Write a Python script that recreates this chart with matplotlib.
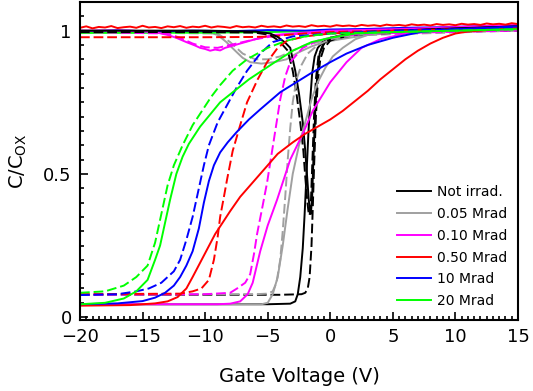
#%% Import libraries
import numpy as np
import matplotlib.pyplot as plt

#%% Data (gate voltage in V, normalised capacitance)
labels = ["Not irrad.", "0.05 Mrad", "0.10 Mrad", "0.50 Mrad", "10 Mrad", "20 Mrad"]
colors = ["#000000", "#a0a0a0", "#ff00ff", "#ff0000", "#0000ff", "#00ff00"]

# Not irradiated
v_black_s = [-20, -10, -5, -3.2, -2.8, -2.6, -2.4, -2.2, -2.05, -1.9, -1.75, -1.6, -1.45, -1.25, -1.0, -0.6, 0, 1, 3, 8, 15]
c_black_s = [0.045, 0.045, 0.045, 0.047, 0.055, 0.08, 0.14, 0.24, 0.36, 0.5, 0.64, 0.76, 0.85, 0.91, 0.94, 0.96, 0.975, 0.985, 0.995, 1.005, 1.015]
v_black_d = [-20, -10, -4, -2.3, -2.0, -1.8, -1.65, -1.5, -1.4, -1.3, -1.15, -1.0, -0.8, -0.5, 0, 1, 2, 5, 15]
c_black_d = [0.078, 0.078, 0.078, 0.08, 0.085, 0.1, 0.14, 0.25, 0.38, 0.52, 0.7, 0.82, 0.9, 0.94, 0.965, 0.98, 0.99, 0.995, 1.0]
v_black_top = [-20, -10, -6, -4.8, -4.2, -3.6, -3.2, -2.8, -2.5, -2.2, -2.0, -1.85, -1.72, -1.62, -1.55, -1.45, -1.35, -1.2, -1.05, -0.85, -0.5, 0, 2, 6, 15]
c_black_top = [1.0, 1.0, 0.997, 0.99, 0.978, 0.958, 0.94, 0.86, 0.78, 0.68, 0.58, 0.49, 0.41, 0.37, 0.36, 0.42, 0.55, 0.72, 0.84, 0.92, 0.955, 0.975, 0.99, 1.0, 1.015]
v_black_top_d = [-20, -10, -6, -4.8, -4.3, -3.8, -3.4, -3.0, -2.7, -2.4, -2.15, -2.0, -1.85, -1.75, -1.65, -1.55, -1.45, -1.3, -1.15, -0.95, -0.6, 0, 2, 6, 15]
c_black_top_d = [0.995, 0.995, 0.993, 0.985, 0.97, 0.95, 0.93, 0.86, 0.78, 0.68, 0.58, 0.49, 0.41, 0.37, 0.355, 0.4, 0.52, 0.7, 0.83, 0.91, 0.95, 0.97, 0.985, 0.995, 1.01]

# 0.05 Mrad
v_gray_s = [-20, -10, -5.5, -5.0, -4.6, -4.2, -3.8, -3.4, -3.0, -2.5, -2.0, -1.5, -1.0, -0.4, 0.2, 1, 2, 3, 5, 15]
c_gray_s = [0.045, 0.045, 0.045, 0.05, 0.08, 0.14, 0.25, 0.38, 0.5, 0.6, 0.68, 0.76, 0.82, 0.87, 0.91, 0.94, 0.97, 0.985, 0.995, 1.01]
v_gray_d = [-20, -6, -5, -4.6, -4.3, -4.0, -3.8, -3.6, -3.4, -3.2, -3.0, -2.7, -2.3, -1.8, -1, 0, 2, 5, 15]
c_gray_d = [0.078, 0.08, 0.082, 0.09, 0.12, 0.2, 0.3, 0.42, 0.55, 0.66, 0.75, 0.83, 0.88, 0.92, 0.95, 0.97, 0.985, 0.995, 1.0]
v_gray_top = [-20, -10, -9, -8.3, -7.6, -7.0, -6.4, -5.5, -4.5, -3.5, -2.5, -1.5, -0.5, 0.8, 3, 6, 15]
c_gray_top = [1.0, 0.998, 0.985, 0.96, 0.93, 0.905, 0.89, 0.885, 0.89, 0.9, 0.925, 0.945, 0.96, 0.97, 0.985, 0.995, 1.01]
v_gray_top_d = [-20, -9, -8, -7, -6, -5, -4, -3, -2, 0, 3, 15]
c_gray_top_d = [0.995, 0.99, 0.96, 0.92, 0.9, 0.9, 0.91, 0.93, 0.95, 0.97, 0.985, 1.0]

# 0.10 Mrad
v_mag_s = [-20, -9, -8, -7.2, -6.6, -6.2, -5.6, -5.0, -4.25, -3.2, -2.2, -1.4, 0, 1.3, 2.5, 4, 6, 8, 15]
c_mag_s = [0.045, 0.045, 0.047, 0.055, 0.08, 0.12, 0.23, 0.32, 0.41, 0.55, 0.64, 0.72, 0.82, 0.89, 0.94, 0.97, 0.99, 0.998, 1.01]
v_mag_d = [-20, -10, -8, -7.45, -6.8, -6.4, -6.1, -5.85, -5.4, -5.05, -4.65, -4.0, -3.6, -3.2, -2.2, -1, 0.5, 3, 15]
c_mag_d = [0.078, 0.08, 0.085, 0.1, 0.12, 0.15, 0.22, 0.29, 0.39, 0.47, 0.58, 0.76, 0.84, 0.89, 0.94, 0.965, 0.98, 0.99, 1.0]
v_mag_top = [-20, -16, -14, -13, -12.3, -11.5, -10.8, -10.4, -10, -9.6, -9.2, -8.8, -8.4, -8.0, -7.2, -6.4, -5.6, -4.5, -3, 0, 5, 15]
c_mag_top = [1.0, 1.0, 0.995, 0.985, 0.975, 0.96, 0.948, 0.94, 0.936, 0.93, 0.934, 0.931, 0.94, 0.945, 0.955, 0.965, 0.975, 0.985, 0.99, 1.0, 1.005, 1.02]
v_mag_top_d = [-20, -13, -12, -11, -10, -9, -8, -6, -4, 0, 15]
c_mag_top_d = [0.995, 0.99, 0.975, 0.955, 0.942, 0.94, 0.95, 0.97, 0.985, 0.995, 1.01]

# 0.50 Mrad
v_red_s = [-20, -16, -14, -13, -12.2, -11.5, -11, -10.4, -9.8, -9.2, -8.6, -8, -7.2, -6.2, -5.2, -4.2, -3, -2, -1, 0, 1, 2, 3, 4, 5, 6, 7, 8, 9, 10, 11, 12, 15]
c_red_s = [0.04, 0.042, 0.048, 0.055, 0.07, 0.1, 0.14, 0.19, 0.24, 0.29, 0.33, 0.37, 0.42, 0.47, 0.52, 0.57, 0.61, 0.64, 0.665, 0.69, 0.72, 0.755, 0.79, 0.83, 0.865, 0.9, 0.93, 0.955, 0.975, 0.99, 0.997, 1.0, 1.01]
v_red_d = [-20, -12, -11, -10.3, -9.7, -9.3, -9.0, -8.8, -8.5, -8.25, -7.8, -7.2, -6.65, -5.8, -5.05, -4.2, -3.45, -2, 0, 5, 15]
c_red_d = [0.08, 0.082, 0.09, 0.1, 0.13, 0.2, 0.28, 0.35, 0.42, 0.48, 0.58, 0.67, 0.75, 0.83, 0.89, 0.94, 0.965, 0.98, 0.99, 1.0, 1.01]
v_red_top = np.arange(-20, 15.5, 0.5)  # sweep grid of the noisy trace
c_red_top = [1.010, 1.015, 1.008, 1.013, 1.011, 1.016, 1.009, 1.012, 1.014, 1.010, 1.017, 1.011, 1.013, 1.009, 1.015,
             1.012, 1.016, 1.010, 1.014, 1.012, 1.017, 1.011, 1.015, 1.013, 1.010, 1.016, 1.012, 1.014, 1.011, 1.017,
             1.013, 1.015, 1.012, 1.018, 1.014, 1.016, 1.013, 1.019, 1.015, 1.017, 1.014, 1.019, 1.016, 1.018, 1.015,
             1.020, 1.017, 1.019, 1.016, 1.021, 1.018, 1.020, 1.017, 1.022, 1.019, 1.021, 1.018, 1.023, 1.020, 1.022,
             1.019, 1.024, 1.021, 1.023, 1.020, 1.025, 1.022, 1.024, 1.021, 1.026, 1.023]
v_red_top_d = [-20, -10, -6, -4.5, -3.5, -2, 0, 5, 15]
c_red_top_d = [0.977, 0.977, 0.978, 0.98, 0.985, 0.99, 0.995, 1.0, 1.01]

# 10 Mrad
v_blue_s = [-20, -17, -15, -14, -13.2, -12.5, -12, -11.5, -11, -10.5, -10.1, -9.7, -9.3, -8.8, -8.2, -7.5, -6.5, -5.6, -4, -1.6, 0, 1.3, 3, 5, 7.2, 10, 15]
c_blue_s = [0.045, 0.048, 0.056, 0.068, 0.085, 0.11, 0.14, 0.18, 0.23, 0.31, 0.4, 0.475, 0.53, 0.575, 0.61, 0.645, 0.69, 0.725, 0.785, 0.85, 0.89, 0.92, 0.95, 0.975, 0.995, 1.005, 1.015]
v_blue_d = [-20, -17, -15.5, -14.5, -13.5, -12.5, -12, -11.5, -11, -10.5, -10.1, -9.7, -9, -8.25, -7.5, -6.65, -5.6, -4.6, -3, 0, 5, 15]
c_blue_d = [0.077, 0.08, 0.09, 0.1, 0.12, 0.16, 0.2, 0.27, 0.35, 0.45, 0.53, 0.6, 0.68, 0.74, 0.8, 0.86, 0.92, 0.96, 0.98, 0.99, 1.0, 1.01]
v_blue_top = [-20, -17, -14, -11, -8, -5, -2, 0, 3, 6, 9, 12, 15]
c_blue_top = [0.998, 1.001, 0.997, 1.0, 0.998, 1.002, 1.0, 1.004, 1.006, 1.01, 1.012, 1.016, 1.018]

# 20 Mrad
v_green_s = [-20, -18, -16.5, -15.5, -14.6, -14, -13.6, -13.2, -12.8, -12.3, -11.8, -11.3, -10.4, -8.8, -6.5, -4.6, -3, -1.5, 0, 2, 5, 15]
c_green_s = [0.045, 0.05, 0.065, 0.09, 0.13, 0.2, 0.25, 0.33, 0.41, 0.5, 0.56, 0.605, 0.665, 0.75, 0.83, 0.885, 0.93, 0.96, 0.975, 0.99, 0.995, 1.005]
v_green_d = [-20, -18, -16.5, -15.5, -14.6, -14.0, -13.5, -13.0, -12.5, -11.8, -11, -10.4, -9.5, -8.8, -7.8, -6.65, -5, -3.5, -2, 0, 5, 15]
c_green_d = [0.085, 0.09, 0.11, 0.14, 0.18, 0.26, 0.36, 0.46, 0.53, 0.6, 0.67, 0.71, 0.77, 0.81, 0.86, 0.9, 0.94, 0.965, 0.98, 0.99, 0.995, 1.005]
v_green_top = [-20, -10, -5, 0, 15]
c_green_top = [0.992, 0.993, 0.995, 1.0, 1.005]

#%% Plot
fig = plt.figure(figsize=(5.33, 3.91), dpi=100)
ax = fig.add_axes([80 / 533, 71 / 391, 438 / 533, 318 / 391])

lw = 1.4
dash = (5, 2)

# curves near 1 (top branches)
ax.plot(v_gray_top, c_gray_top, color=colors[1], lw=lw)
ax.plot(v_gray_top_d, c_gray_top_d, color=colors[1], lw=lw, dashes=dash)
ax.plot(v_green_top, c_green_top, color=colors[5], lw=lw)
ax.plot(v_blue_top, c_blue_top, color=colors[4], lw=lw)
ax.plot(v_mag_top, c_mag_top, color=colors[2], lw=lw)
ax.plot(v_mag_top_d, c_mag_top_d, color=colors[2], lw=lw, dashes=dash)
ax.plot(v_red_top_d, c_red_top_d, color=colors[3], lw=lw, dashes=dash)
ax.plot(v_black_top, c_black_top, color=colors[0], lw=lw)
ax.plot(v_black_top_d, c_black_top_d, color=colors[0], lw=lw, dashes=dash)
ax.plot(v_red_top, c_red_top, color=colors[3], lw=lw)

# rising branches: solid and dashed per dose
solid = [(v_black_s, c_black_s), (v_gray_s, c_gray_s), (v_mag_s, c_mag_s),
         (v_red_s, c_red_s), (v_blue_s, c_blue_s), (v_green_s, c_green_s)]
dashed = [(v_black_d, c_black_d), (v_gray_d, c_gray_d), (v_mag_d, c_mag_d),
          (v_red_d, c_red_d), (v_blue_d, c_blue_d), (v_green_d, c_green_d)]
for (vs, cs), (vd, cd), col, lab in zip(solid, dashed, colors, labels):
    ax.plot(vd, cd, color=col, lw=lw, dashes=dash)
    ax.plot(vs, cs, color=col, lw=lw, label=lab)

#%% Axes, ticks and labels
ax.set_xlim(-20, 15)
ax.set_ylim(-0.01, 1.10)
ax.set_xticks(np.arange(-20, 16, 5))
ax.set_xticks(np.arange(-20, 15.1, 0.5), minor=True)
ax.set_yticks([0, 0.5, 1])
ax.set_yticklabels(["0", "0.5", "1"])
ax.set_yticks(np.arange(0, 1.101, 0.05), minor=True)
ax.tick_params(which="both", direction="in", labelsize=13, width=1.2)
ax.tick_params(which="major", length=6, pad=6)
ax.tick_params(which="minor", length=3)
for s in ax.spines.values():
    s.set_linewidth(1.5)

ax.set_xlabel("Gate Voltage (V)", fontsize=14, labelpad=15)
ax.set_ylabel(r"C/C$_\mathregular{OX}$", fontsize=14, labelpad=10)

ax.legend(loc="lower left", bbox_to_anchor=(0.71, 0.02), frameon=False, fontsize=10,
          handlelength=2.5, handletextpad=0.4, labelspacing=0.56, borderaxespad=0)

fig.savefig("out.png", dpi=100)
